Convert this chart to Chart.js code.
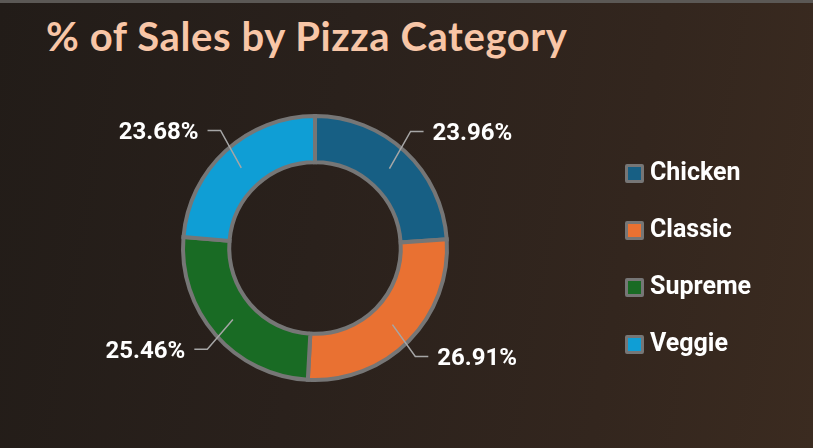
<!DOCTYPE html>
<html lang="en">
<head>
  <meta charset="UTF-8" />
  <title>% of Sales by Pizza Category</title>
  <style>
    html, body {
      margin: 0;
      padding: 0;
    }
    .card {
      position: relative;
      width: 813px;
      height: 448px;
      box-sizing: border-box;
      border-top: 3px solid #5b5855;
      background: linear-gradient(100deg, #221c18 0%, #2a211c 40%, #33261e 75%, #3b2b20 100%);
      overflow: hidden;
    }
    h1 {
      position: absolute;
      left: 46px;
      top: 9px;
      margin: 0;
      font-family: Lato, "Open Sans", sans-serif;
      font-weight: bold;
      font-size: 40px;
      color: #f8c6a7;
      letter-spacing: 0.6px;
    }
    #chart {
      position: absolute;
      left: 0;
      top: -3px;
    }
    .legend {
      position: absolute;
      left: 625px;
      top: 154px;
      font-family: Roboto, sans-serif;
      font-weight: bold;
      font-size: 25px;
      color: #ffffff;
    }
    .legend .row {
      height: 57px;
      display: flex;
      align-items: flex-start;
    }
    .legend .box {
      width: 13px;
      height: 13px;
      border: 3px solid #767676;
      border-radius: 2px;
      margin-top: 7px;
      margin-right: 6px;
    }
  </style>
  <script src="https://cdn.jsdelivr.net/npm/chart.js"></script>
</head>
<body>
  <div class="card">
    <h1>% of Sales by Pizza Category</h1>
    <canvas id="chart" width="813" height="448"></canvas>
    <div class="legend" id="legend"></div>
  </div>

  <script>
    const categories = ['Chicken', 'Classic', 'Supreme', 'Veggie'];
    const salesPct = [23.96, 26.91, 25.46, 23.68];
    const colors = ['#175f84', '#e97132', '#196b24', '#0f9ed5'];

    // legend on the right, built from the same arrays
    const legendDiv = document.getElementById('legend');
    categories.forEach((name, i) => {
      legendDiv.innerHTML += `<div class="row"><div class="box" style="background:${colors[i]}"></div><span>${name}</span></div>`;
    });

    // percentage labels outside the ring with leader lines
    const outsideLabels = {
      id: 'outsideLabels',
      afterDatasetsDraw(chart) {
        const ctx = chart.ctx;
        const meta = chart.getDatasetMeta(0);
        ctx.save();
        ctx.font = 'bold 24px Roboto, sans-serif';
        ctx.fillStyle = '#ffffff';
        ctx.textBaseline = 'middle';
        meta.data.forEach((arc, i) => {
          const mid = (arc.startAngle + arc.endAngle) / 2;
          const cx = arc.x, cy = arc.y;
          const ringR = (arc.innerRadius + arc.outerRadius) / 2;
          const sx = cx + Math.cos(mid) * ringR;
          const sy = cy + Math.sin(mid) * ringR;
          const side = Math.cos(mid) >= 0 ? 1 : -1;
          const labelY = cy + Math.sin(mid) * 157;
          const edgeX = cx + Math.cos(mid) * 172;
          const lineY = labelY - 2;

          ctx.strokeStyle = '#a6a6a6';
          ctx.lineWidth = 1.5;
          ctx.beginPath();
          ctx.moveTo(sx, sy);
          ctx.lineTo(edgeX - side * 22, lineY);
          ctx.lineTo(edgeX - side * 9, lineY);
          ctx.stroke();

          ctx.textAlign = side > 0 ? 'left' : 'right';
          ctx.fillText(salesPct[i].toFixed(2) + '%', edgeX, labelY + 1);
        });
        ctx.restore();
      }
    };

    new Chart(document.getElementById('chart'), {
      type: 'doughnut',
      data: {
        labels: categories,
        datasets: [{
          data: salesPct,
          backgroundColor: colors,
          borderColor: '#767676',
          borderWidth: 4,
          borderJoinStyle: 'miter'
        }]
      },
      options: {
        responsive: false,
        animation: false,
        cutout: '65%',
        layout: {
          padding: { left: 181, right: 364, top: 114, bottom: 66 }
        },
        plugins: {
          legend: { display: false },
          tooltip: { enabled: false }
        }
      },
      plugins: [outsideLabels]
    });
  </script>
</body>
</html>
